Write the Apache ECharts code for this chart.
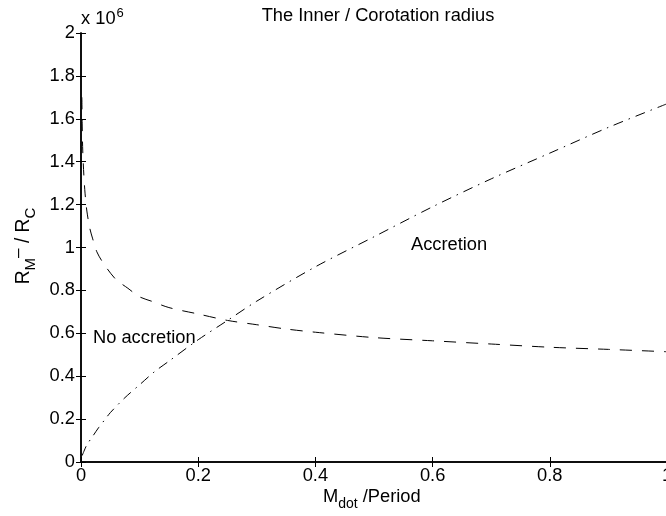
<!DOCTYPE html>
<html>
<head>
<meta charset="utf-8">
<script src="https://cdn.jsdelivr.net/npm/echarts@6/dist/echarts.min.js"></script>
<style>html,body{margin:0;padding:0;background:#fff}#c{width:666px;height:516px}</style>
</head>
<body>
<div id="c"></div>
<script>
// Inner (magnetospheric) radius, dashed curve: x = Mdot, y in units of 1e6
const innerX = [0.0015,0.002,0.003,0.005,0.007,0.01,0.015,0.02,0.027,0.035,0.045,0.06,0.08,0.1,0.12,0.15,0.2,0.25,0.3,0.35,0.4,0.5,0.6,0.7,0.8,0.9,1.0];
const innerY = [1.70,1.58,1.45,1.33,1.25,1.17,1.09,1.04,0.98,0.94,0.90,0.85,0.81,0.77,0.75,0.72,0.69,0.66,0.64,0.62,0.605,0.58,0.565,0.55,0.535,0.525,0.514];
// Corotation radius, dash-dot curve: x = Period
const coroX = [0.002,0.005,0.01,0.02,0.03,0.04,0.05,0.075,0.1,0.125,0.15,0.2,0.25,0.3,0.4,0.5,0.6,0.7,0.8,0.9,1.0];
const coroY = [0.03,0.05,0.08,0.12,0.16,0.195,0.23,0.30,0.36,0.42,0.47,0.57,0.66,0.75,0.91,1.05,1.19,1.32,1.44,1.56,1.67];
const xTicks = ['0','0.2','0.4','0.6','0.8','1'];
const yTicks = ['0','0.2','0.4','0.6','0.8','1','1.2','1.4','1.6','1.8','2'];

const FONT = 'Liberation Sans, Arial, Helvetica, sans-serif';
const FS = 18.3;
const chart = echarts.init(document.getElementById('c'), null, {renderer: 'canvas'});

const axisLine = {show: true, lineStyle: {color: '#000', width: 1.5}};
const tick = {show: true, inside: true, length: 5, lineStyle: {color: '#000', width: 1}};

chart.setOption({
  animation: false,
  backgroundColor: '#fff',
  title: {
    text: 'The Inner / Corotation radius',
    left: 373, top: 2, textAlign: 'center',
    textStyle: {fontFamily: FONT, fontSize: FS, fontWeight: 'normal', color: '#000'}
  },
  grid: {left: 81, top: 33, width: 586, height: 429, outerBoundsMode: 'none', containLabel: false},
  xAxis: [{
    type: 'value', min: 0, max: 1, interval: 0.2, position: 'bottom',
    axisLine: axisLine, axisTick: tick, splitLine: {show: false},
    axisLabel: {margin: 5, fontFamily: FONT, fontSize: FS, color: '#000',
      formatter: v => xTicks[Math.round(v / 0.2)]}
  }, {
    type: 'value', min: 0, max: 1, interval: 0.2, position: 'top',
    axisLine: axisLine, axisTick: tick, splitLine: {show: false}, axisLabel: {show: false}
  }],
  yAxis: [{
    type: 'value', min: 0, max: 2, interval: 0.2, position: 'left',
    axisLine: axisLine, axisTick: tick, splitLine: {show: false},
    axisLabel: {margin: 6, fontFamily: FONT, fontSize: FS, color: '#000',
      formatter: v => yTicks[Math.round(v / 0.2)]}
  }, {
    type: 'value', min: 0, max: 2, interval: 0.2, position: 'right',
    axisLine: axisLine, axisTick: tick, splitLine: {show: false}, axisLabel: {show: false}
  }],
  series: [{
    type: 'line', name: 'inner', showSymbol: false, symbol: 'none', smooth: 0.3,
    data: innerX.map((x, i) => [x, innerY[i]]),
    lineStyle: {color: '#000', width: 1, type: [12, 10]}
  }, {
    type: 'line', name: 'corotation', showSymbol: false, symbol: 'none', smooth: 0.3,
    data: coroX.map((x, i) => [x, coroY[i]]),
    lineStyle: {color: '#000', width: 1, type: [10, 6, 1.5, 6]}
  }],
  graphic: [
    {type: 'text', x: 81, y: 19, style: {
      text: '{a|x 10}{s|6}', verticalAlign: 'middle', align: 'left', fill: '#000',
      rich: {a: {fontFamily: FONT, fontSize: FS, fill: '#000'},
             s: {fontFamily: FONT, fontSize: 13, fill: '#000', verticalAlign: 'top', padding: [0,0,11,1]}}}},
    {type: 'text', x: 93, y: 338, style: {
      text: 'No accretion', font: FS + 'px ' + FONT, fill: '#000', verticalAlign: 'middle', align: 'left'}},
    {type: 'text', x: 411, y: 245, style: {
      text: 'Accretion', font: FS + 'px ' + FONT, fill: '#000', verticalAlign: 'middle', align: 'left'}},
    {type: 'text', x: 323, y: 497, style: {
      text: '{a|M}{b|dot}{a| /Period}', verticalAlign: 'middle', align: 'left', fill: '#000',
      rich: {a: {fontFamily: FONT, fontSize: FS, fill: '#000', lineHeight: 28, verticalAlign: 'middle'},
             b: {fontFamily: FONT, fontSize: 14, fill: '#000', lineHeight: 28, verticalAlign: 'bottom', padding: [11,0,0,0]}}}},
    {type: 'text', x: 24, y: 246, rotation: Math.PI / 2, style: {
      text: '{a|R}{b|M}{c|\u2013}{a| / R}{b|C}', verticalAlign: 'middle', align: 'center', fill: '#000',
      rich: {a: {fontFamily: FONT, fontSize: FS + 1, fill: '#000', lineHeight: 28, verticalAlign: 'middle'},
             b: {fontFamily: FONT, fontSize: 15, fill: '#000', lineHeight: 28, verticalAlign: 'bottom', padding: [11,0,0,0]},
             c: {fontFamily: FONT, fontSize: 17, fill: '#000', lineHeight: 28, verticalAlign: 'top', padding: [0,0,11,0]}}}}
  ]
});
</script>
</body>
</html>
